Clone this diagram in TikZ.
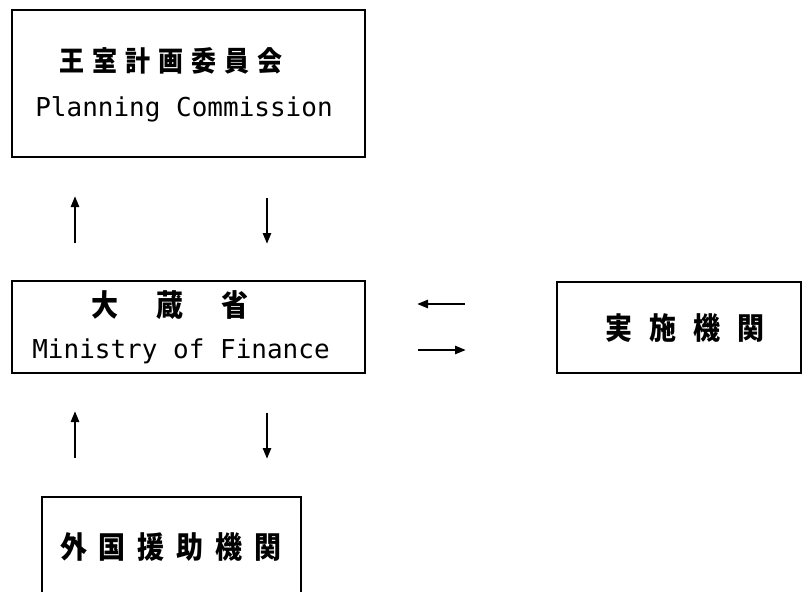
\documentclass[tikz,border=0pt]{standalone}
\usepackage{fontspec}
\setmonofont{DejaVu Sans Mono}
\newfontfamily\jp{Noto Sans CJK JP}
\usetikzlibrary{arrows.meta}
\tikzset{
  box/.style={draw=black, line width=2.6pt, inner sep=0pt},
  lbl/.style={inner sep=0pt, text=black},
  en/.style={lbl, font=\ttfamily\fontsize{26}{26}\selectfont, anchor=base},
  jpa/.style={lbl, font=\jp\bfseries\fontsize{25}{25}\selectfont},
  jpb/.style={lbl, font=\jp\bfseries\fontsize{27}{27}\selectfont},
  flow/.style={line width=2.6pt, -{Triangle[length=11pt,width=8pt]}}
}
\newcommand\tallcjk[1]{\scalebox{1}[1.12]{#1}}
\begin{document}
\begin{tikzpicture}[x=1pt,y=-1pt]
\useasboundingbox (0,0) rectangle (802,591);
\clip (0,0) rectangle (802,591);
% boxes
\draw[box] (12,10) rectangle (365,157);
\draw[box] (12,281) rectangle (365,373);
\draw[box] (557,282) rectangle (801,373);
\draw[box] (42,497) rectangle (301,620);
% texts
\node[jpa] (pcj) at (171,61) {\tallcjk{王\kern8pt 室\kern8pt 計\kern8pt 画\kern8pt 委\kern8pt 員\kern8pt 会}};
\node[en] (pce) at (184,117) {Planning Commission};
\node[jpb] (mofj) at (170,305) {\tallcjk{大\kern38pt 蔵\kern38pt 省}};
\node[en] (mofe) at (181,358) {Ministry of Finance};
\node[jpb] (impl) at (685,328) {\tallcjk{実\kern17pt 施\kern17pt 機\kern17pt 関}};
\node[jpb] (aid) at (171,547) {\tallcjk{外\kern12pt 国\kern12pt 援\kern12pt 助\kern12pt 機\kern12pt 関}};
% arrow endpoints
\coordinate (a1s) at (75,243); \coordinate (a1e) at (75,196);
\coordinate (a2s) at (267,198); \coordinate (a2e) at (267,244);
\coordinate (a3s) at (75,458); \coordinate (a3e) at (75,411);
\coordinate (a4s) at (267,413); \coordinate (a4e) at (267,459);
\coordinate (a5s) at (465,304); \coordinate (a5e) at (417,304);
\coordinate (a6s) at (418,350); \coordinate (a6e) at (466,350);
\draw[flow] (a1s) -- (a1e);
\draw[flow] (a2s) -- (a2e);
\draw[flow] (a3s) -- (a3e);
\draw[flow] (a4s) -- (a4e);
\draw[flow] (a5s) -- (a5e);
\draw[flow] (a6s) -- (a6e);
\end{tikzpicture}
\end{document}
